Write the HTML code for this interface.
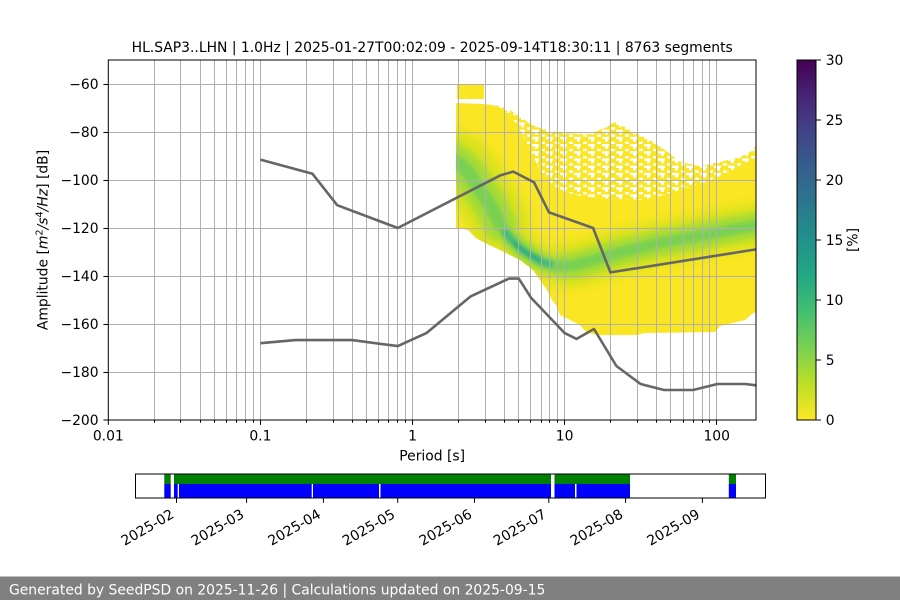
<!DOCTYPE html>
<html><head><meta charset="utf-8">
<style>
html,body{margin:0;padding:0;background:#fff;}
#wrap{position:relative;width:900px;height:600px;overflow:hidden;background:#fff;}
#wrap svg{position:absolute;left:0;top:0;display:block;font-family:"DejaVu Sans","Liberation Sans",sans-serif;}
#heat{z-index:1;}
#over{z-index:2;}
</style></head>
<body>
<div id="wrap">
<svg id="heat" width="900" height="600" viewBox="0 0 900 600" xmlns="http://www.w3.org/2000/svg">
<defs>
<pattern id="sc" patternUnits="userSpaceOnUse" width="14" height="7.2">
<rect width="14" height="7.2" fill="#fae622"/>
<rect x="0" y="0" width="7" height="2.4" fill="#fff"/>
<rect x="3" y="2.4" width="3" height="2.4" fill="#fff"/>
<rect x="9" y="4.8" width="4" height="2.4" fill="#fff"/>
</pattern>
<clipPath id="solidclip">
<polygon points="456,103 484,104 500,108 510,115 520,130 530,150 540,170 550,182 560,190 580,196 600,198 640,200 660,196 680,190 700,184 720,176 740,166 750,160 756,158 756,312 752,314 745,320 720,326 715,332 645,333 637,335 600,335 587,333 580,325 570,320 560,315 556,305 552,300 547,290 540,280 533,270 520,260 510,255 500,250 485,243 476,238 468,230 456,228"/>
</clipPath>
<filter id="b5" filterUnits="userSpaceOnUse" x="380" y="40" width="420" height="340"><feGaussianBlur stdDeviation="5"/></filter>
<filter id="b3" filterUnits="userSpaceOnUse" x="380" y="40" width="420" height="340"><feGaussianBlur stdDeviation="3"/></filter>
<filter id="b2" filterUnits="userSpaceOnUse" x="380" y="40" width="420" height="340"><feGaussianBlur stdDeviation="1.8"/></filter>
</defs>
<rect x="457" y="85" width="27" height="14" fill="#fae622"/>
<polygon fill="url(#sc)" points="484,104 500,106 510,110 520,116 530,124 540,128 560,133 590,134 605,128 615,122 630,130 650,140 665,150 680,162 700,166 720,162 740,157 750,152 756,146 756,158 740,166 720,176 700,184 680,190 660,196 640,200 600,198 580,196 560,190 550,182 540,170 530,150 520,130 510,115 500,108"/>
<polygon fill="#fae622" points="456,103 484,104 500,108 510,115 520,130 530,150 540,170 550,182 560,190 580,196 600,198 640,200 660,196 680,190 700,184 720,176 740,166 750,160 756,158 756,312 752,314 745,320 720,326 715,332 645,333 637,335 600,335 587,333 580,325 570,320 560,315 556,305 552,300 547,290 540,280 533,270 520,260 510,255 500,250 485,243 476,238 468,230 456,228"/>
<g clip-path="url(#solidclip)" fill="none" stroke-linecap="round" stroke-linejoin="round">
 <g filter="url(#b5)" stroke="#d8e21c">
  <polyline stroke-width="60" points="452,160 460,164 468,172 476,184 484,196 492,208 500,224"/>
  <polyline stroke-width="34" points="500,224 510,238 520,248 530,255 542,262 555,266 566,266"/>
  <polyline stroke-width="44" points="566,266 575,265 590,261 610,255 630,250 660,243 700,236 730,230 760,225"/>
 </g>
 <g filter="url(#b3)" stroke="#a5db36">
  <polyline stroke-width="34" points="452,160 460,164 468,172 476,184 484,196 492,208 500,224"/>
  <polyline stroke-width="20" points="500,224 510,238 520,248 530,255 542,262 555,266 566,266"/>
  <polyline stroke-width="26" points="566,266 575,265 590,261 610,255 630,250 660,243 700,236 730,230 760,225"/>
 </g>
 <g filter="url(#b2)" stroke="#7ad151">
  <polyline stroke-width="14" points="452,160 460,164 468,172 476,184 484,196 492,208 500,224"/>
  <polyline stroke-width="11" points="500,224 510,238 520,248 530,255 542,262 555,266 566,266"/>
  <polyline stroke-width="11" points="566,266 575,265 590,261 610,255 630,250 660,243 700,236 730,230 760,225"/>
 </g>
 <g filter="url(#b2)">
  <polyline stroke="#40b97a" stroke-width="6" points="505,232 510,238 520,248 530,255 542,262 550,264"/>
  <polyline stroke="#2aa583" stroke-width="3" points="515,244 520,248 530,255 540,260"/>
 </g>
</g>
</svg>

<svg id="over" width="900" height="600" viewBox="0 0 900 600" xmlns="http://www.w3.org/2000/svg">
<defs>
<linearGradient id="vir" x1="0" y1="0" x2="0" y2="1">
<stop offset="0" stop-color="#440154"/>
<stop offset="0.1" stop-color="#482475"/>
<stop offset="0.2" stop-color="#414487"/>
<stop offset="0.3" stop-color="#355f8d"/>
<stop offset="0.4" stop-color="#2a788e"/>
<stop offset="0.5" stop-color="#21918c"/>
<stop offset="0.6" stop-color="#22a884"/>
<stop offset="0.7" stop-color="#44bf70"/>
<stop offset="0.8" stop-color="#7ad151"/>
<stop offset="0.9" stop-color="#bddf26"/>
<stop offset="1" stop-color="#fde725"/>
</linearGradient>
</defs>

<!-- Title -->
<text x="432.2" y="52" font-size="13.9" text-anchor="middle" fill="#000">HL.SAP3..LHN | 1.0Hz | 2025-01-27T00:02:09 - 2025-09-14T18:30:11 | 8763 segments</text>

<!-- Grid -->
<path fill="none" stroke="#b0b0b0" stroke-width="1" d="M154.5 60V420M180.5 60V420M200.5 60V420M214.5 60V420M226.5 60V420M236.5 60V420M245.5 60V420M253.5 60V420M260.5 60V420M306.5 60V420M333.5 60V420M352.5 60V420M366.5 60V420M378.5 60V420M388.5 60V420M397.5 60V420M405.5 60V420M412.5 60V420M458.5 60V420M485.5 60V420M504.5 60V420M518.5 60V420M530.5 60V420M541.5 60V420M549.5 60V420M557.5 60V420M564.5 60V420M610.5 60V420M637.5 60V420M656.5 60V420M670.5 60V420M683.5 60V420M693.5 60V420M702.5 60V420M709.5 60V420M716.5 60V420M108.3 84.5H756M108.3 132.5H756M108.3 180.5H756M108.3 228.5H756M108.3 276.5H756M108.3 324.5H756M108.3 372.5H756"/>

<!-- Noise models -->
<polyline fill="none" stroke="#666" stroke-width="2.6" stroke-linejoin="round" points="260.4,159.6 312.5,173.8 337.2,205.2 397.8,228 500.7,175.2 513.3,171.6 534.1,182.4 549,212.4 593.1,228 610.4,272.4 756,249.4"/>
<polyline fill="none" stroke="#666" stroke-width="2.6" stroke-linejoin="round" points="260.4,343.2 295.5,340.1 352,340.1 397.8,346.1 426.7,332.9 470.3,296.6 508.9,278.6 518.8,278.6 530.9,297.6 564.7,333.1 576.6,338.9 594,329 616.4,366 640.6,384 664,390 693.1,390 717.4,384 745.2,384 756,385.3"/>

<!-- Axes frame -->
<rect x="108.3" y="60" width="647.7" height="360" fill="none" stroke="#000" stroke-width="1"/>

<!-- X ticks -->
<path fill="none" stroke="#000" stroke-width="1" d="M108.3 420v4.9M260.5 420v4.9M412.5 420v4.9M564.5 420v4.9M716.5 420v4.9M154.5 420v2.8M180.5 420v2.8M200.5 420v2.8M214.5 420v2.8M226.5 420v2.8M236.5 420v2.8M245.5 420v2.8M253.5 420v2.8M306.5 420v2.8M333.5 420v2.8M352.5 420v2.8M366.5 420v2.8M378.5 420v2.8M388.5 420v2.8M397.5 420v2.8M405.5 420v2.8M458.5 420v2.8M485.5 420v2.8M504.5 420v2.8M518.5 420v2.8M530.5 420v2.8M541.5 420v2.8M549.5 420v2.8M557.5 420v2.8M610.5 420v2.8M637.5 420v2.8M656.5 420v2.8M670.5 420v2.8M683.5 420v2.8M693.5 420v2.8M702.5 420v2.8M709.5 420v2.8"/>
<g font-size="13.9" text-anchor="middle" fill="#000">
<text x="108.3" y="440.5">0.01</text>
<text x="260.4" y="440.5">0.1</text>
<text x="412.5" y="440.5">1</text>
<text x="564.6" y="440.5">10</text>
<text x="716.7" y="440.5">100</text>
<text x="432.2" y="460.5">Period [s]</text>
</g>

<!-- Y ticks -->
<path fill="none" stroke="#000" stroke-width="1" d="M103.4 84.5h4.9M103.4 132.5h4.9M103.4 180.5h4.9M103.4 228.5h4.9M103.4 276.5h4.9M103.4 324.5h4.9M103.4 372.5h4.9M103.4 420h4.9"/>
<g font-size="13.9" text-anchor="end" fill="#000">
<text x="98.6" y="89">−60</text>
<text x="98.6" y="137">−80</text>
<text x="98.6" y="185">−100</text>
<text x="98.6" y="233">−120</text>
<text x="98.6" y="281">−140</text>
<text x="98.6" y="329">−160</text>
<text x="98.6" y="377">−180</text>
<text x="98.6" y="425">−200</text>
</g>
<text transform="translate(47.5,240) rotate(-90)" font-size="13.9" text-anchor="middle" fill="#000">Amplitude [<tspan font-style="italic">m</tspan><tspan font-size="9.7" dy="-5">2</tspan><tspan font-style="italic" dy="5">/s</tspan><tspan font-size="9.7" dy="-5">4</tspan><tspan font-style="italic" dy="5">/Hz</tspan>] [dB]</text>

<!-- Colorbar -->
<rect x="797" y="60" width="19" height="360" fill="url(#vir)" stroke="#000" stroke-width="1"/>
<path fill="none" stroke="#000" stroke-width="1" d="M816 60h4.9M816 120h4.9M816 180h4.9M816 240h4.9M816 300h4.9M816 360h4.9M816 420h4.9"/>
<g font-size="13.9" fill="#000">
<text x="825.7" y="65">30</text>
<text x="825.7" y="125">25</text>
<text x="825.7" y="185">20</text>
<text x="825.7" y="245">15</text>
<text x="825.7" y="305">10</text>
<text x="825.7" y="365">5</text>
<text x="825.7" y="425">0</text>
</g>
<text transform="translate(857.5,240) rotate(-90)" font-size="13.9" text-anchor="middle" fill="#000">[%]</text>

<!-- Timeline -->
<g>
<rect x="164.3" y="474" width="6.4" height="10" fill="#008000"/>
<rect x="174" y="474" width="377" height="10" fill="#008000"/>
<rect x="554.5" y="474" width="75.5" height="10" fill="#008000"/>
<rect x="728.8" y="474" width="7.2" height="10" fill="#008000"/>
<rect x="164.3" y="484" width="6.4" height="14" fill="#0000ff"/>
<rect x="174" y="484" width="3.7" height="14" fill="#0000ff"/>
<rect x="179" y="484" width="132.7" height="14" fill="#0000ff"/>
<rect x="313" y="484" width="66" height="14" fill="#0000ff"/>
<rect x="380.5" y="484" width="170.5" height="14" fill="#0000ff"/>
<rect x="554.5" y="484" width="20.5" height="14" fill="#0000ff"/>
<rect x="576.5" y="484" width="53.5" height="14" fill="#0000ff"/>
<rect x="728.8" y="484" width="7.2" height="14" fill="#0000ff"/>
<rect x="135.5" y="474" width="630" height="24" fill="none" stroke="#000" stroke-width="1"/>
<path fill="none" stroke="#000" stroke-width="1" d="M176.5 498v4.9M246.6 498v4.9M323.4 498v4.9M397.7 498v4.9M474.5 498v4.9M548.8 498v4.9M625.6 498v4.9M702.4 498v4.9"/>
<g font-size="13.9" text-anchor="end" fill="#000">
<text x="174.9" y="517" transform="rotate(-30 174.9 517)">2025-02</text>
<text x="245" y="517" transform="rotate(-30 245 517)">2025-03</text>
<text x="321.8" y="517" transform="rotate(-30 321.8 517)">2025-04</text>
<text x="396.1" y="517" transform="rotate(-30 396.1 517)">2025-05</text>
<text x="472.9" y="517" transform="rotate(-30 472.9 517)">2025-06</text>
<text x="547.2" y="517" transform="rotate(-30 547.2 517)">2025-07</text>
<text x="624" y="517" transform="rotate(-30 624 517)">2025-08</text>
<text x="700.8" y="517" transform="rotate(-30 700.8 517)">2025-09</text>
</g>
</g>

<!-- Footer -->
<rect x="0" y="576.5" width="900" height="23.5" fill="#808080"/>
<text x="9" y="594.5" font-size="13.9" fill="#fff">Generated by SeedPSD on 2025-11-26 | Calculations updated on 2025-09-15</text>
</svg>
</div>
</body></html>
